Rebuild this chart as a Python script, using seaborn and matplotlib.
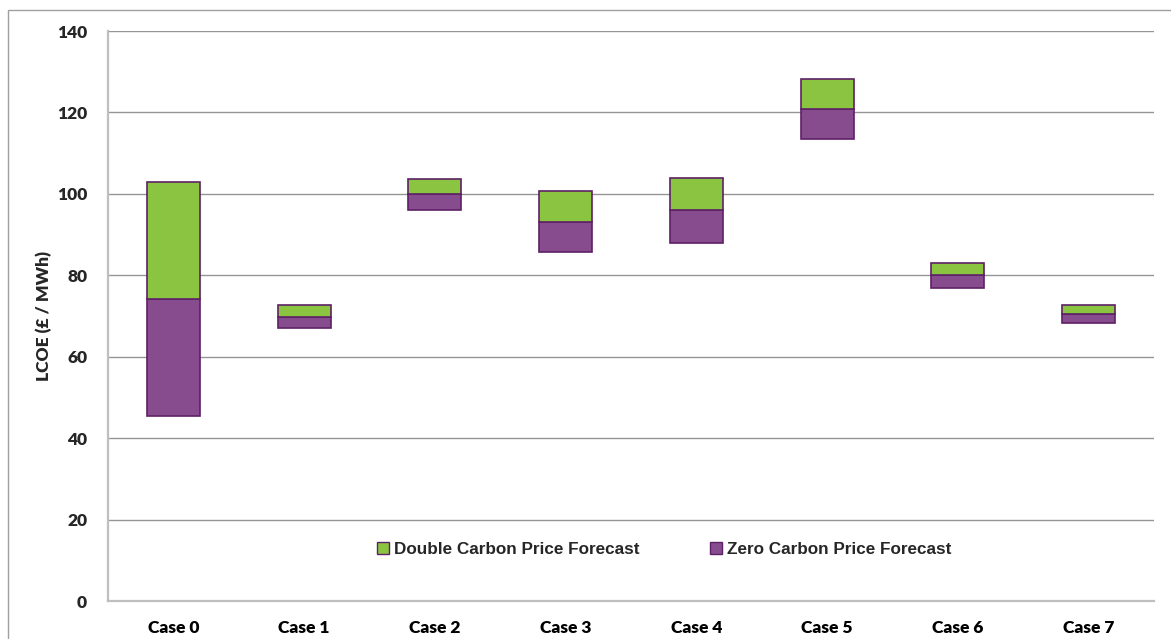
import numpy as np
import pandas as pd
import matplotlib
matplotlib.use("Agg")
import matplotlib.pyplot as plt
from matplotlib.patches import Rectangle, Patch
import seaborn as sns

# LCOE range per case (£ / MWh)
cases = ["Case 0", "Case 1", "Case 2", "Case 3", "Case 4", "Case 5", "Case 6", "Case 7"]
zero_carbon_low = [45.5, 67.1, 96.0, 85.7, 88.0, 113.4, 76.9, 68.3]
central = [74.1, 69.7, 99.9, 93.1, 96.1, 120.8, 80.1, 70.5]
double_carbon_high = [102.8, 72.7, 103.7, 100.8, 103.9, 128.1, 82.9, 72.8]
y_ticks = [0, 20, 40, 60, 80, 100, 120, 140]

GREEN = "#8BC441"
PURPLE = "#874C8E"
EDGE = "#5E2066"
GRID = "#959595"
AXIS = "#BFBFBF"
LABEL_WEIGHT = "heavy"

df = pd.DataFrame({
    "case": cases,
    "low": zero_carbon_low,
    "mid": central,
    "high": double_carbon_high,
})
df["zero_span"] = df["mid"] - df["low"]
df["double_span"] = df["high"] - df["mid"]

sns.set_style("white")
plt.rcParams["font.family"] = ["Lato", "DejaVu Sans"]

W, H = 1171, 639
fig = plt.figure(figsize=(W / 100, H / 100), dpi=100)
ax = fig.add_axes([108 / W, 1 - 601 / H, (1154 - 108) / W, (601 - 31) / H])

bar_kw = dict(width=0.405, edgecolor=EDGE, linewidth=1.2, errorbar=None, ax=ax)
sns.barplot(data=df, x="case", y="zero_span", bottom=df["low"].to_numpy(),
            color=PURPLE, saturation=1, **bar_kw)
sns.barplot(data=df, x="case", y="double_span", bottom=df["mid"].to_numpy(),
            color=GREEN, saturation=1, **bar_kw)

ax.set_ylim(0, 140)
ax.set_xlim(-0.5, len(cases) - 0.5)
ax.set_yticks(y_ticks)
ax.yaxis.grid(True, color=GRID, linewidth=1.0)
ax.xaxis.grid(False)
ax.set_axisbelow(True)

for side in ["top", "right"]:
    ax.spines[side].set_visible(False)
ax.spines["left"].set_color(AXIS)
ax.spines["left"].set_linewidth(1.6)
ax.spines["bottom"].set_color(AXIS)
ax.spines["bottom"].set_linewidth(1.6)

# Category labels centred, tick marks on the category boundaries
ax.set_xticks(np.arange(len(cases)))
ax.set_xticklabels(cases, fontweight=LABEL_WEIGHT, fontsize=12.5)
ax.set_xticks(np.arange(len(cases) + 1) - 0.5, minor=True)
ax.tick_params(axis="x", which="major", length=0, pad=14, colors="black")
ax.tick_params(axis="x", which="minor", length=6, width=1.2, color=AXIS, direction="out")
ax.tick_params(axis="y", length=6, width=1.2, color=AXIS, direction="out", pad=9)
for lbl in ax.get_yticklabels():
    lbl.set_fontweight(LABEL_WEIGHT)
    lbl.set_fontsize(12.5)

ax.set_xlabel("")
ax.set_ylabel("LCOE (£ / MWh)", fontweight=LABEL_WEIGHT, fontsize=12.5, labelpad=3)

handles = [
    Patch(facecolor=GREEN, edgecolor=EDGE, linewidth=1.0, label="Double Carbon Price Forecast"),
    Patch(facecolor=PURPLE, edgecolor=EDGE, linewidth=1.0, label="Zero Carbon Price Forecast"),
]
fig.legend(handles=handles, loc="center", ncol=2,
           bbox_to_anchor=(664 / W, 1 - 549 / H), bbox_transform=fig.transFigure,
           frameon=False, handlelength=0.7, handleheight=0.7, handletextpad=0.3,
           columnspacing=4.1,
           prop={"family": "Liberation Sans", "weight": "bold", "size": 12.3})

# Outer chart frame
fig.add_artist(Rectangle((8 / W, -0.1), 2, 1 - 10 / H + 0.1, transform=fig.transFigure,
                         fill=False, edgecolor="#A0A0A0", linewidth=1.0))

fig.savefig("out.png", dpi=100)
